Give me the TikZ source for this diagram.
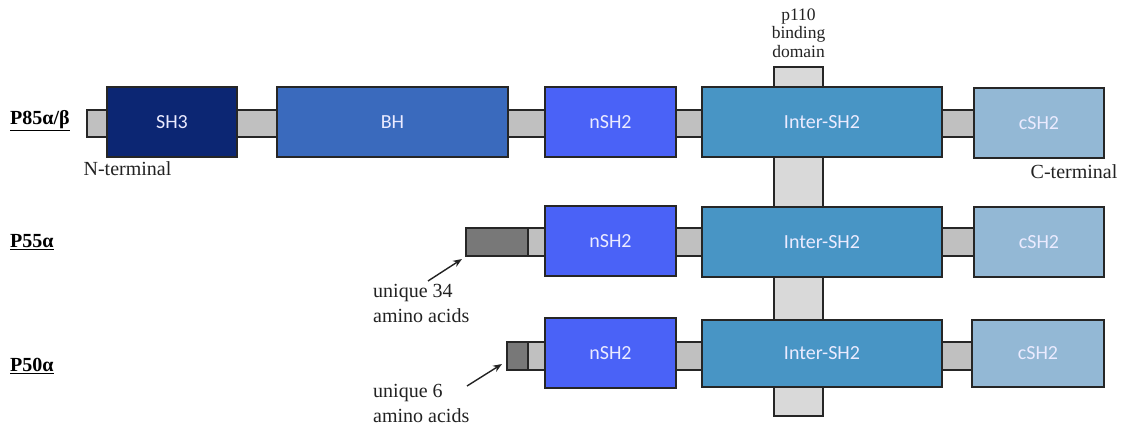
\documentclass[tikz,border=0pt]{standalone}
\usepackage{fontspec}
\setmainfont{Liberation Serif}
\newfontfamily\boxfont{Carlito}
\newfontfamily\seriffont{Liberation Serif}
\usetikzlibrary{arrows.meta}
\definecolor{sh3col}{HTML}{0C2673}
\definecolor{bhcol}{HTML}{3A6ABD}
\definecolor{nshcol}{HTML}{4A62F7}
\definecolor{intercol}{HTML}{4895C5}
\definecolor{cshcol}{HTML}{93B8D5}
\definecolor{linkcol}{HTML}{C0C0C0}
\definecolor{uniqcol}{HTML}{787878}
\definecolor{p110col}{HTML}{D9D9D9}
\definecolor{labcol}{HTML}{222222}
\tikzset{
  dom/.style={draw=black!85, line width=1.2pt, rectangle, inner sep=0pt,
    minimum height=70pt, text=white!92!blue,
    font=\boxfont\fontsize{20}{24}\selectfont},
  linker/.style={draw=black!85, line width=1.2pt, rectangle, inner sep=0pt,
    fill=linkcol},
  lab/.style={text=labcol, inner sep=0pt, font=\seriffont\fontsize{20}{25}\selectfont},
  rowlab/.style={text=black, inner sep=0pt, anchor=west,
    font=\seriffont\bfseries\fontsize{20}{24}\selectfont},
  pointer/.style={line width=1.4pt, draw=labcol,
    -{Stealth[length=9pt,width=7pt]}}
}
\begin{document}
\begin{tikzpicture}[x=1pt,y=-1pt]
\useasboundingbox (0,0) rectangle (1122,429);

% p110 binding strip running behind all three rows
\node[linker, fill=p110col, minimum width=49pt, minimum height=349pt] (p110) at (798.5,241.5) {};
\node[lab, align=center, font=\seriffont\fontsize{17.5}{18.5}\selectfont] (p110lab) at (798.5,33) {p110\\binding\\domain};

% ---- P85 alpha/beta ----
\node[rowlab] (r1) at (10,121) {\underline{P85α/β}};
\node[linker, minimum width=887pt, minimum height=27pt] (l1) at (530.5,123.5) {};
\node[dom, fill=sh3col, minimum width=130pt] (sh3) at (172,122) {SH3};
\node[dom, fill=bhcol, minimum width=231pt] (bh) at (392.5,122) {BH};
\node[dom, fill=nshcol, minimum width=131pt] (n1) at (610.5,122) {nSH2};
\node[dom, fill=intercol, minimum width=240pt] (i1) at (822,122) {Inter-SH2};
\node[dom, fill=cshcol, minimum width=130pt] (c1) at (1039,123) {cSH2};
\node[lab] (nterm) at (127.5,169) {N-terminal};
\node[lab] (cterm) at (1074,172) {C-terminal};

% ---- P55 alpha ----
\node[rowlab] (r2) at (10,242) {\underline{P55α}};
\node[linker, minimum width=446pt, minimum height=28pt] (l2) at (751,242) {};
\node[linker, fill=uniqcol, minimum width=62pt, minimum height=28pt] (u2) at (497,242) {};
\node[dom, fill=nshcol, minimum width=131pt] (n2) at (610.5,241) {nSH2};
\node[dom, fill=intercol, minimum width=240pt] (i2) at (822,242) {Inter-SH2};
\node[dom, fill=cshcol, minimum width=130pt] (c2) at (1039,242) {cSH2};
\node[lab, align=left, anchor=west] (t2) at (373,303.5) {unique 34\\amino acids};
\coordinate (a2s) at (428,281);
\coordinate (a2e) at (462,259);
\draw[pointer] (a2s) -- (a2e);

% ---- P50 alpha ----
\node[rowlab] (r3) at (10,366) {\underline{P50α}};
\node[linker, minimum width=446pt, minimum height=28pt] (l3) at (751,356) {};
\node[linker, fill=uniqcol, minimum width=21pt, minimum height=28pt] (u3) at (517.5,356) {};
\node[dom, fill=nshcol, minimum width=131pt] (n3) at (610.5,353) {nSH2};
\node[dom, fill=intercol, minimum width=240pt, minimum height=67pt] (i3) at (822,353.5) {Inter-SH2};
\node[dom, fill=cshcol, minimum width=132pt, minimum height=67pt] (c3) at (1038,353.5) {cSH2};
\node[lab, align=left, anchor=west] (t3) at (373,403) {unique 6\\amino acids};
\coordinate (a3s) at (467,386);
\coordinate (a3e) at (502,364);
\draw[pointer] (a3s) -- (a3e);
\end{tikzpicture}
\end{document}
